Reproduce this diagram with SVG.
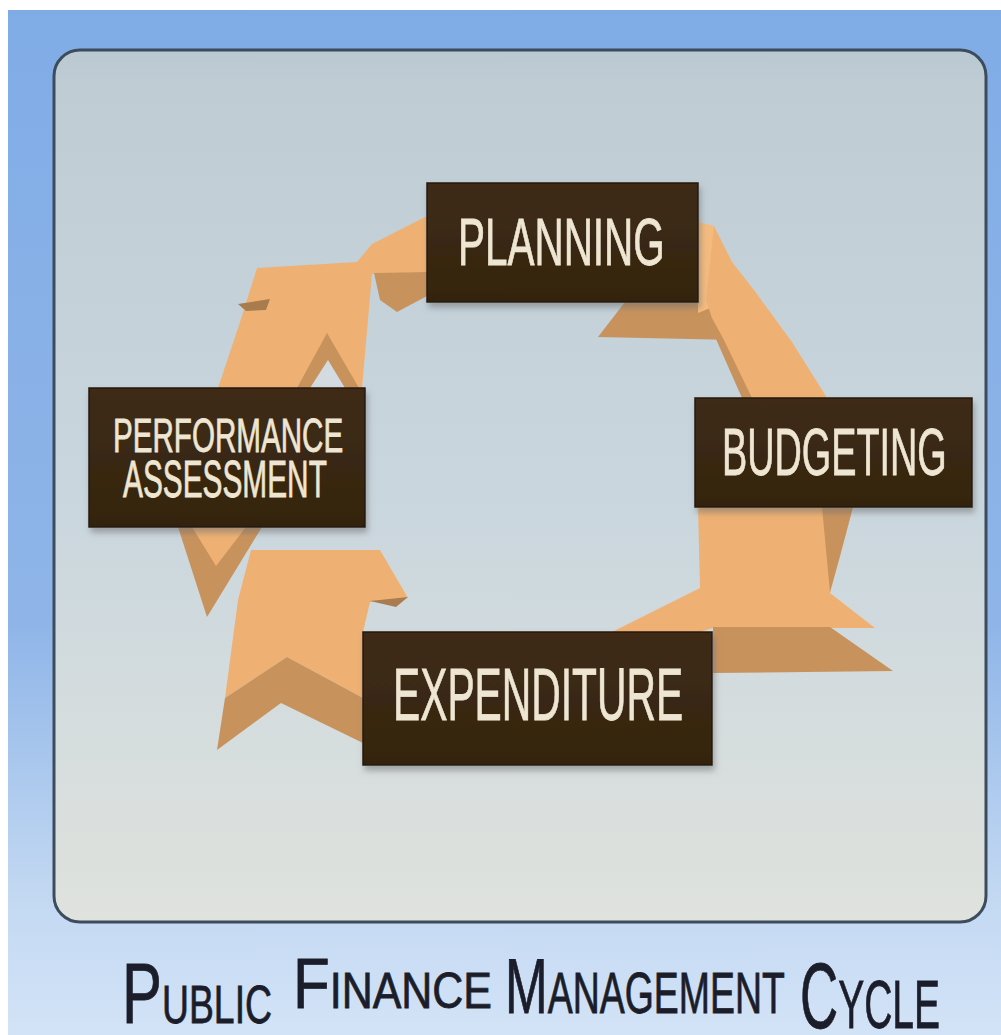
<svg xmlns="http://www.w3.org/2000/svg" width="1001" height="1035" viewBox="0 0 1001 1035">
  <defs>
    <linearGradient id="bgGrad" x1="0" y1="0" x2="0" y2="1">
      <stop offset="0" stop-color="#80ace6"/>
      <stop offset="0.6" stop-color="#8fb5e8"/>
      <stop offset="0.86" stop-color="#c2d8f2"/>
      <stop offset="1" stop-color="#d3e3f7"/>
    </linearGradient>
    <linearGradient id="panelGrad" x1="0" y1="0" x2="0" y2="1">
      <stop offset="0" stop-color="#b9c8d2"/>
      <stop offset="0.04" stop-color="#bfccd4"/>
      <stop offset="0.5" stop-color="#c9d6de"/>
      <stop offset="1" stop-color="#dfe2dd"/>
    </linearGradient>
    <linearGradient id="boxGrad" x1="0" y1="0" x2="0" y2="1">
      <stop offset="0" stop-color="#3f2c15"/>
      <stop offset="1" stop-color="#33240f"/>
    </linearGradient>
    <filter id="boxShadow" x="-10%" y="-15%" width="125%" height="140%">
      <feDropShadow dx="2" dy="5" stdDeviation="3" flood-color="#707070" flood-opacity="0.55"/>
    </filter>
    <style>
      .box { fill: url(#boxGrad); stroke: #24180a; stroke-width: 1.5; filter: url(#boxShadow); }
      .label { font-family: "Liberation Sans", Arial, sans-serif; fill: #eee6d2; stroke: #eee6d2; stroke-width: 0.8; }
      .title { font-family: "Liberation Sans", Arial, sans-serif; fill: #1b1e2a; stroke: #1b1e2a; stroke-width: 0.8; }
      .face { fill: #efb173; }
      .light { fill: #f4bb7e; }
      .side { fill: #c8925c; }
      .dark { fill: #a97c50; }
      .gap { fill: #d3dbe0; }
    </style>
  </defs>

  <!-- page and backdrop -->
  <rect x="0" y="0" width="1001" height="1035" fill="#ffffff"/>
  <rect x="8" y="10" width="993" height="1025" fill="url(#bgGrad)"/>
  <rect x="54" y="50" width="932" height="872" rx="26" ry="26" fill="url(#panelGrad)" stroke="#3d4c5c" stroke-width="3"/>

  <!-- cycle arrows -->
  <g id="connectors">
    <!-- performance assessment to planning -->
    <g id="arrow-assessment-planning">
      <polygon class="face" points="257,268 357,262 372,244 427,216 427,272 372,274 362,388 218,388 240,322"/>
      <polygon class="side" points="374,273 427,272 427,296 397,312 380,300"/>
      <polygon class="dark" points="238,304 270,299 266,310 246,311"/>
      <polygon class="side" points="297,388 327,333 359,388"/>
      <polygon class="gap" points="310,388 328,360 345,388"/>
    </g>
    <!-- planning to budgeting -->
    <g id="arrow-planning-budgeting">
      <polygon class="side" points="625,302 727,302 736,340 598,337"/>
      <polygon class="light" points="698,222 714,226 730,300 698,313"/>
      <polygon class="face" points="714,226 732,262 754,290 792,342 827,398 748,398 738,372 724,340 712,318 706,300"/>
      <polygon class="side" points="712,330 724,340 752,398 742,398"/>
    </g>
    <!-- budgeting to expenditure -->
    <g id="arrow-budgeting-expenditure">
      <polygon class="face" points="698,507 853,507 840,556 830,593 875,628 713,628 700,632 612,632 700,588"/>
      <polygon class="side" points="822,507 853,507 840,556 830,592 826,550"/>
      <polygon class="side" points="713,627 830,627 893,671 713,673"/>
    </g>
    <!-- expenditure to performance assessment -->
    <g id="arrow-expenditure-assessment">
      <polygon class="side" points="178,527 262,527 207,617"/>
      <polygon class="face" points="192,527 246,527 216,566"/>
      <polygon class="face" points="251,550 380,550 408,598 370,602 363,632 363,698 287,657 225,698 238,600"/>
      <polygon class="dark" points="370,601 408,597 396,607"/>
      <polygon class="side" points="225,698 287,657 363,698 363,743 281,703 217,750"/>
    </g>
  </g>

  <!-- stages -->
  <g id="node-planning">
    <rect class="box" x="427" y="183" width="271" height="119"/>
    <text class="label" transform="translate(458,265) scale(0.613,1)" font-size="66">PLANNING</text>
  </g>
  <g id="node-budgeting">
    <rect class="box" x="695" y="398" width="277" height="109"/>
    <text class="label" transform="translate(722,475) scale(0.573,1)" font-size="66">BUDGETING</text>
  </g>
  <g id="node-expenditure">
    <rect class="box" x="363" y="632" width="349" height="133"/>
    <text class="label" transform="translate(393,720) scale(0.544,1)" font-size="75">EXPENDITURE</text>
  </g>
  <g id="node-assessment">
    <rect class="box" x="89" y="388" width="276" height="139"/>
    <text class="label" transform="translate(113,452) scale(0.604,1)" font-size="49">PERFORMANCE</text>
    <text class="label" transform="translate(123,497) scale(0.585,1)" font-size="51">ASSESSMENT</text>
  </g>

  <!-- caption in small capitals -->
  <g id="caption">
    <text class="title" transform="translate(122,1023) scale(0.705,1)"><tspan font-size="85">P</tspan><tspan font-size="53">UBLIC</tspan></text>
    <text class="title" transform="translate(293,1008) scale(0.859,1)"><tspan font-size="70">F</tspan><tspan font-size="50">INANCE</tspan></text>
    <text class="title" transform="translate(505,1013) scale(0.657,1)"><tspan font-size="78">M</tspan><tspan font-size="57">ANAGEMENT</tspan></text>
    <text class="title" transform="translate(800,1028) scale(0.574,1)"><tspan font-size="92">C</tspan><tspan font-size="68">YCLE</tspan></text>
  </g>
</svg>
